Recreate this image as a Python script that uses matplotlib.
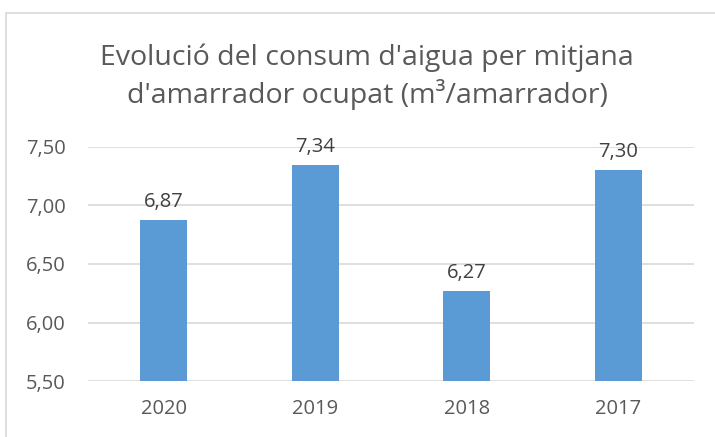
import matplotlib.pyplot as plt
from matplotlib.patches import Rectangle

years = ["2020", "2019", "2018", "2017"]
consum = [6.87, 7.34, 6.27, 7.30]
yticks = [5.5, 6.0, 6.5, 7.0, 7.5]

title = "Evolució del consum d'aigua per mitjana\nd'amarrador ocupat (m³/amarrador)"

plt.rcParams['font.family'] = ['Open Sans', 'DejaVu Sans']
text_color = "#595959"
grid_color = "#D9D9D9"

fig = plt.figure(figsize=(7.15, 4.37), dpi=100)
ax = fig.add_axes([88/715, 1 - 381.3/437, (694-88)/715, (381.3-146.5)/437])

# chart border (cut by the picture on right and bottom)
fig.patches.append(Rectangle((6/715, -0.1), 1.0, 1.1 - 13/437,
                             transform=fig.transFigure, fill=False,
                             edgecolor=grid_color, linewidth=1.2))

x = range(len(years))
ax.bar(x, consum, width=0.31, color="#5B9BD5", zorder=3)
for i, v in zip(x, consum):
    ax.annotate(f"{v:.2f}".replace(".", ","), (i, v), xytext=(0, 6),
                textcoords="offset points", ha="center", va="bottom",
                fontsize=14.5, color="#404040")

ax.set_xlim(-0.5, len(years) - 0.5)
ax.set_ylim(5.5, 7.5)
ax.set_yticks(yticks)
ax.set_yticklabels([f"{t:.2f}".replace(".", ",") for t in yticks])
ax.set_xticks(list(x))
ax.set_xticklabels(years)
ax.tick_params(length=0, labelsize=14.5, labelcolor=text_color)
ax.tick_params(axis="y", pad=16)
ax.tick_params(axis="x", pad=13)
ax.grid(axis="y", color=grid_color, linewidth=1.2, zorder=0)
for s in ax.spines.values():
    s.set_visible(False)

fig.text(367/715, 1 - 77/437, title, ha="center", va="center",
         fontsize=20.5, color=text_color, linespacing=1.3)

fig.savefig("out.png", dpi=100)
